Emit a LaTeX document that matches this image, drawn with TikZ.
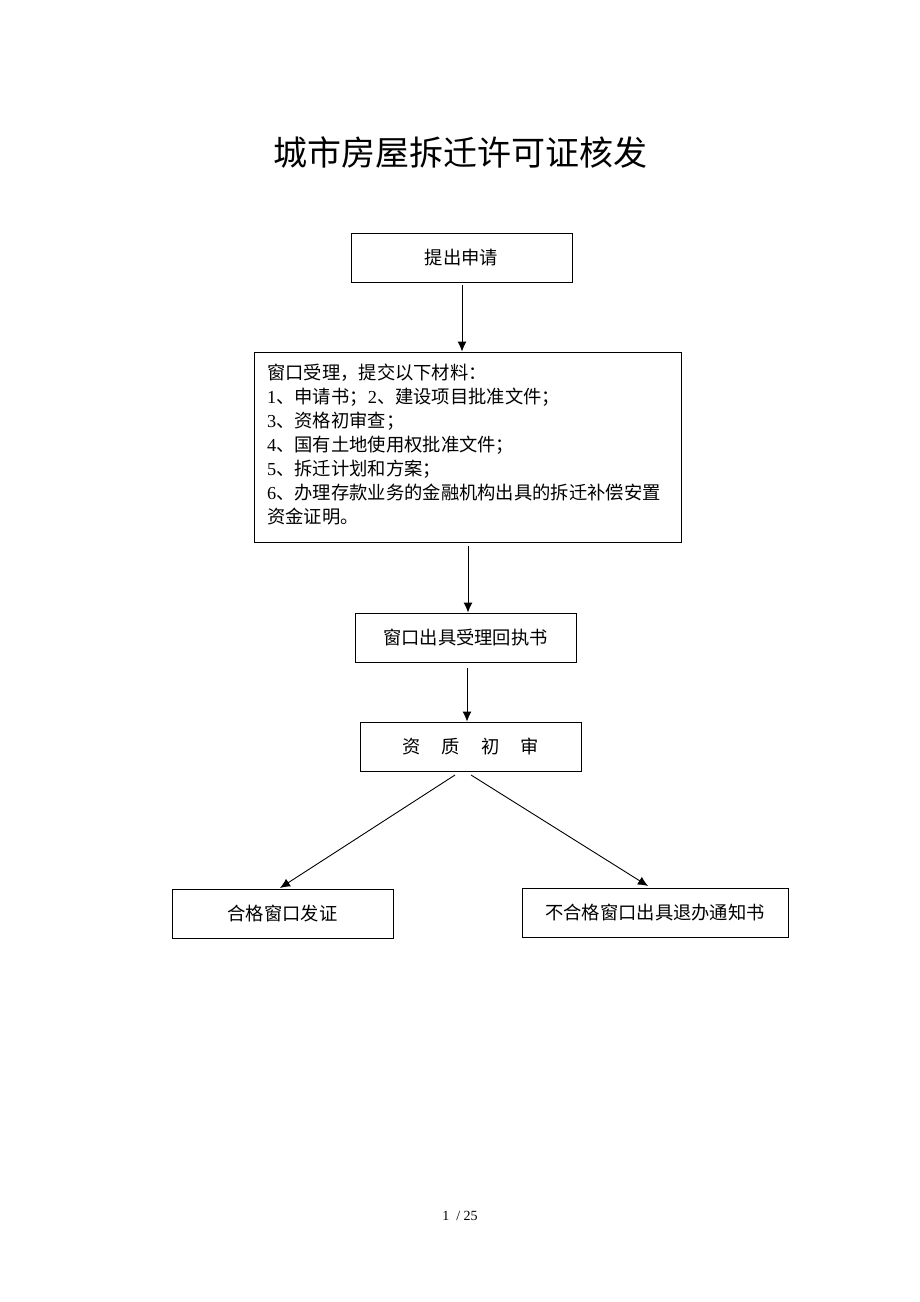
\documentclass[tikz,border=0pt]{standalone}
\usepackage{fontspec}
\setmainfont{Liberation Serif}
\newfontfamily\cjk{Noto Sans CJK SC}
\usetikzlibrary{arrows.meta}
\tikzset{
  box/.style={draw, line width=0.9pt, minimum height=49pt, inner sep=0pt, font=\cjk\fontsize{18.3}{24}\selectfont},
  conn/.style={line width=0.9pt, -{Latex[length=10pt,width=9pt]}}
}
\begin{document}
\begin{tikzpicture}[x=1pt,y=-1pt]
\useasboundingbox (0,0) rectangle (920,1302);
\node[font=\cjk\fontsize{34}{40}\selectfont] (title) at (460,152) {城市房屋拆迁许可证核发};
\node[box, minimum width=221pt] (apply) at (461.5,257.5) {提出申请};
\node[box, minimum width=427pt, minimum height=190pt] (accept) at (467.5,447) {};
\node[font=\cjk\fontsize{18.3}{24}\selectfont, text width=401pt, align=left, inner sep=0pt, anchor=west] (acctext) at (267,445) {窗口受理，提交以下材料：\\
\textrm{1}、申请书；\textrm{2}、建设项目批准文件；\\
\textrm{3}、资格初审查；\\
\textrm{4}、国有土地使用权批准文件；\\
\textrm{5}、拆迁计划和方案；\\
\textrm{6}、办理存款业务的金融机构出具的拆迁补偿安置\\
资金证明。};
\node[box, minimum width=221pt] (receipt) at (465.5,637.5) {窗口出具受理回执书};
\node[box, minimum width=221pt] (review) at (470.5,746.5) {资\hspace{21pt}质\hspace{21pt}初\hspace{21pt}审};
\node[box, minimum width=221pt] (pass) at (282.5,913.5) {合格窗口发证};
\node[box, minimum width=266pt] (fail) at (655,912.5) {不合格窗口出具退办通知书};
\node[font=\fontsize{14}{16}\selectfont] (page) at (460,1216) {1\ \ / 25};
\coordinate (s1) at (462,285);
\coordinate (s2) at (468,546);
\coordinate (s3) at (467,668);
\coordinate (r1) at (455,775);
\coordinate (r2) at (471,775);
\coordinate (e1) at (280,888);
\coordinate (e2) at (648,886);
\draw[conn] (s1) -- (s1 |- accept.north);
\draw[conn] (s2) -- (s2 |- receipt.north);
\draw[conn] (s3) -- (s3 |- review.north);
\draw[conn] (r1) -- (e1);
\draw[conn] (r2) -- (e2);
\end{tikzpicture}
\end{document}
